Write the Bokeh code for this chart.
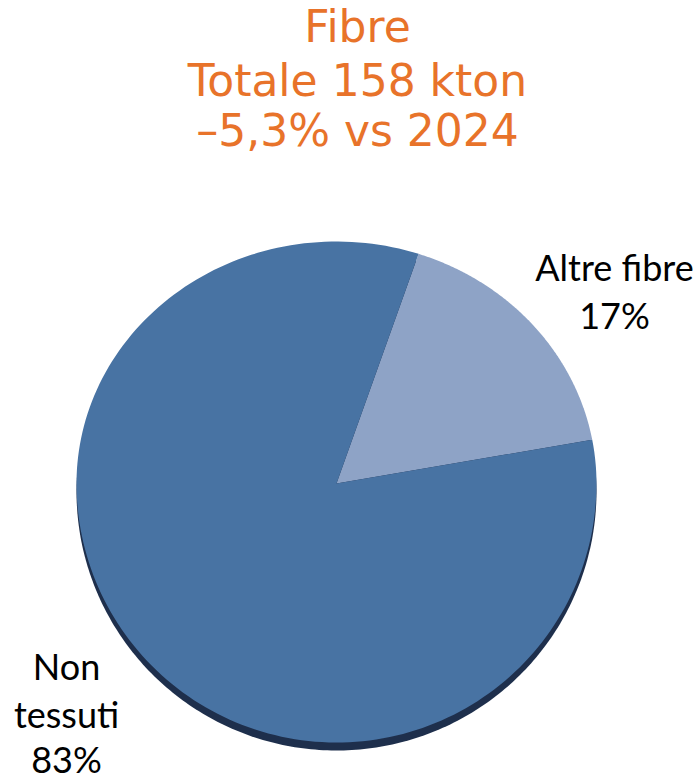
import numpy as np
from bokeh.plotting import figure
from bokeh.models import Range1d, ColumnDataSource
from bokeh.core.properties import value
from bokeh.embed import file_html
from bokeh.resources import INLINE

# ---- data ----
categories = ["Altre fibre", "Non tessuti"]
shares = [17, 83]
label_lines = [["Altre fibre", "17%"], ["Non", "tessuti", "83%"]]
title_lines = ["Fibre", "Totale 158 kton", "–5,3% vs 2024"]
colors = ["#8EA3C6", "#4873A3"]

W, H = 698, 780
p = figure(width=W, height=H, x_range=Range1d(0, W), y_range=Range1d(0, H),
           output_backend="svg", toolbar_location=None,
           x_axis_type=None, y_axis_type=None, min_border=0,
           outline_line_color=None)
p.xgrid.visible = False
p.ygrid.visible = False
p.background_fill_color = "white"
p.border_fill_color = "white"

# pie geometry (slightly tilted 3D look)
cx, cy = 336, 297
rx, ry_top, ry_bot = 260, 242, 259
start_deg = 71.6  # first slice starts here and goes clockwise


def ellipse_pts(a0, a1, n=200):
    t = np.radians(np.linspace(a0, a1, n))
    s = np.sin(t)
    ry = np.where(s > 0, ry_top, ry_bot)
    return cx + rx * np.cos(t), cy + ry * s


# shadow (thickness below)
sx, sy = ellipse_pts(0, 360, 400)
p.patch(sx, sy - 8, fill_color="#1E2F4C", line_color=None)

fr = np.array(shares, dtype=float) / sum(shares)
ends = start_deg - np.cumsum(fr) * 360
starts = np.concatenate([[start_deg], ends[:-1]])
xs, ys = [], []
for a0, a1 in zip(starts, ends):
    ex, ey = ellipse_pts(a0, a1)
    xs.append(np.concatenate([[cx], ex, [cx]]))
    ys.append(np.concatenate([[cy], ey, [cy]]))
src = ColumnDataSource(dict(xs=xs, ys=ys, color=colors, cat=categories))
p.patches("xs", "ys", source=src, fill_color="color", line_color=None)

# title
title_x = 357
title_base = [754, 700, 650]
for t, yb in zip(title_lines, title_base):
    p.text(x=[title_x], y=[yb], text=[t], text_font=value("DejaVu Sans"),
           text_font_size="44px", text_color="#E8732A",
           text_align="center", text_baseline="alphabetic")

# labels
label_pos = [(614, [514, 466]), (66, [115, 67, 22])]
for lines, (lx, lys) in zip(label_lines, label_pos):
    for t, yb in zip(lines, lys):
        p.text(x=[lx], y=[yb], text=[t], text_font=value("Lato"),
               text_font_size="36px", text_color="black",
               text_align="center", text_baseline="alphabetic")

open("out.html", "w").write(file_html(p, INLINE))
